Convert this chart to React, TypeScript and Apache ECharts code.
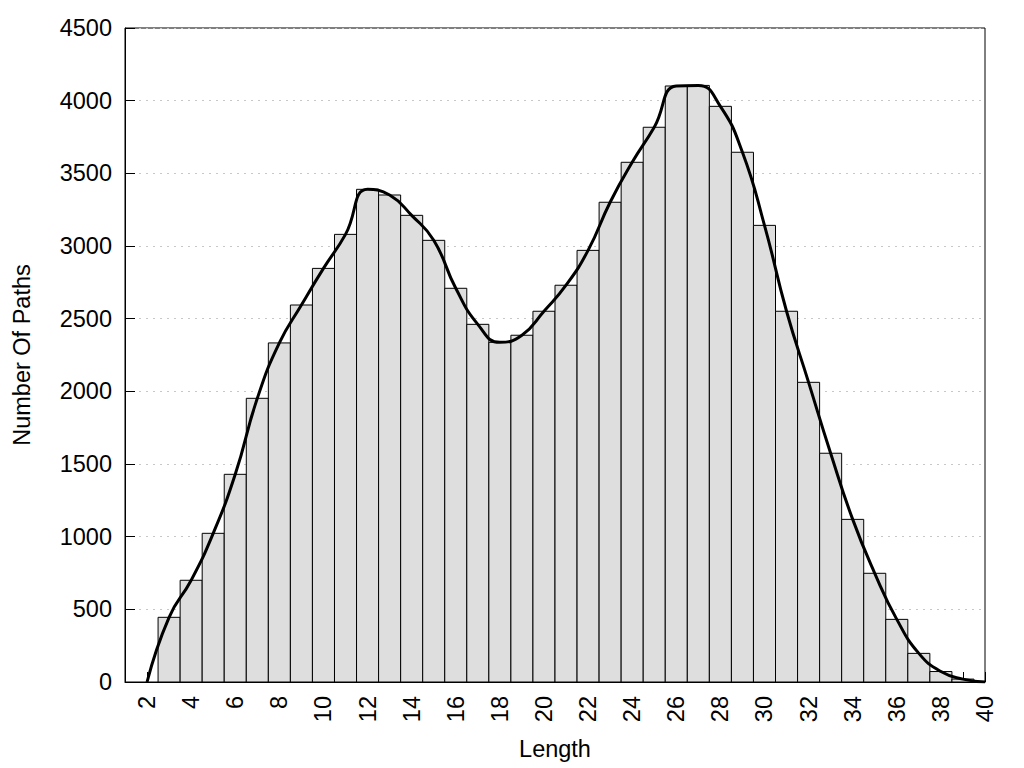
import React, { useEffect, useRef } from "react";
import * as echarts from "echarts";

const lengths = [3, 4, 5, 6, 7, 8, 9, 10, 11, 12, 13, 14, 15, 16, 17, 18, 19, 20, 21, 22, 23, 24, 25, 26, 27, 28, 29, 30, 31, 32, 33, 34, 35, 36, 37, 38, 39];
const counts = [445, 700, 1023, 1429, 1952, 2333, 2594, 2846, 3080, 3390, 3351, 3211, 3039, 2709, 2461, 2337, 2386, 2551, 2730, 2970, 3301, 3576, 3817, 4101, 4105, 3961, 3645, 3142, 2551, 2062, 1574, 1119, 748, 431, 197, 72, 20];
const curveStart = [2, 0];
const curveEnd = [40, 0];

const FONT = "'Liberation Sans', Arial, Helvetica, sans-serif";
const FS = 23.5;

export default function App() {
  const ref = useRef<HTMLDivElement>(null);
  useEffect(() => {
    if (!ref.current) return;
    const chart = echarts.init(ref.current, null, { renderer: "svg" });
    const barData = lengths.map((x, i) => [x, counts[i]]);
    const lineData = [curveStart, ...barData, curveEnd];
    chart.setOption({
      animation: false,
      backgroundColor: "#ffffff",
      textStyle: { fontFamily: FONT },
      grid: {
        left: 125,
        right: 39,
        top: 28,
        bottom: 86,
        show: true,
        borderColor: "#000",
        borderWidth: 1,
        backgroundColor: "transparent",
      },
      xAxis: {
        type: "value",
        min: 1,
        max: 40,
        interval: 1,
        name: "Length",
        nameLocation: "middle",
        nameGap: 55,
        nameTextStyle: { fontSize: FS, color: "#000", fontFamily: FONT },
        axisLine: { show: true, lineStyle: { color: "#000", width: 1 } },
        axisTick: { show: true, inside: true, length: 10, lineStyle: { color: "#000" } },
        axisLabel: {
          rotate: 90,
          margin: 14,
          fontSize: FS,
          color: "#000",
          fontFamily: FONT,
          formatter: (v: number) => (v % 2 === 0 ? String(v) : ""),
        },
        splitLine: { show: false },
      },
      yAxis: {
        type: "value",
        min: 0,
        max: 4500,
        interval: 500,
        name: "Number Of Paths",
        nameLocation: "middle",
        nameGap: 91,
        nameTextStyle: { fontSize: FS, color: "#000", fontFamily: FONT },
        axisLine: { show: true, lineStyle: { color: "#000", width: 1 } },
        axisTick: { show: true, inside: true, length: 10, lineStyle: { color: "#000" } },
        axisLabel: {
          margin: 13,
          fontSize: FS,
          color: "#000",
          fontFamily: FONT,
          formatter: (v: number) => String(v),
        },
        splitLine: { show: true, lineStyle: { color: "#c8c8c8", type: [2, 5], width: 1 } },
      },
      series: [
        {
          type: "custom",
          data: barData,
          encode: { x: 0, y: 1 },
          z: 2,
          renderItem: (params: any, api: any) => {
            const x = api.value(0);
            const y = api.value(1);
            const p1 = api.coord([x - 0.5, y]);
            const p2 = api.coord([x + 0.5, 0]);
            return {
              type: "rect",
              shape: { x: p1[0], y: p1[1], width: p2[0] - p1[0], height: p2[1] - p1[1] },
              style: { fill: "#dedede", stroke: "#000", lineWidth: 1 },
            };
          },
        },
        {
          type: "line",
          data: lineData,
          smooth: 0.5,
          showSymbol: false,
          symbol: "none",
          z: 5,
          lineStyle: { color: "#000", width: 3 },
        },
      ],
    });
    return () => chart.dispose();
  }, []);
  return (
    <div
      ref={ref}
      style={{ position: "fixed", left: 0, top: 0, width: "1024px", height: "768px", background: "#fff" }}
    />
  );
}
